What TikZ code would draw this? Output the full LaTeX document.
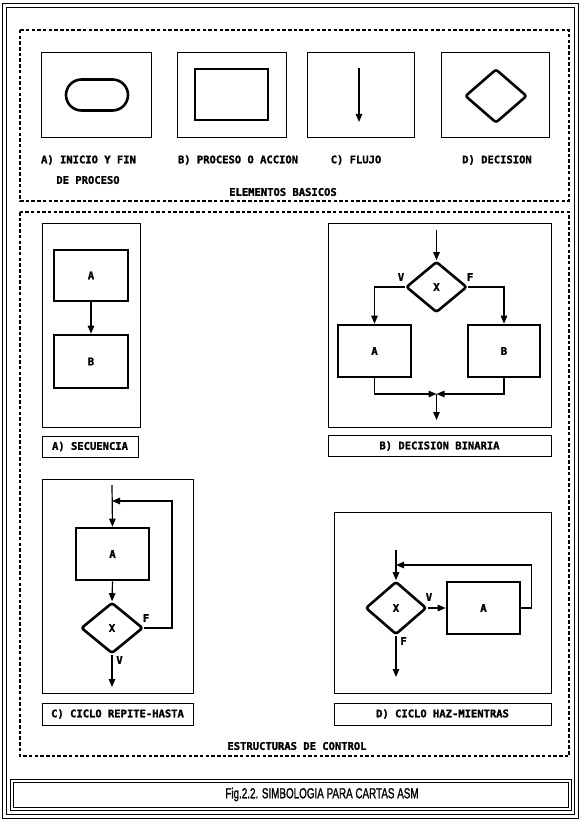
\documentclass[tikz,border=0pt]{standalone}
\usepackage{fontspec}
\usepackage{graphicx}
\setmainfont{Liberation Sans}
\newfontfamily\lblfont[BoldFeatures={FakeBold=1.6}]{DejaVu Sans Mono}
\newfontfamily\capfont[FakeBold=1.5]{Liberation Sans}
\newcommand\lblf{\fontsize{10.5}{12}\selectfont\lblfont\bfseries}
\usetikzlibrary{arrows.meta,shapes.geometric}
\begin{document}
\begin{tikzpicture}[x=1pt,y=-1pt,
  frm/.style={draw, line width=0.9pt, inner sep=0pt},
  sym/.style={draw, line width=2.6pt, inner sep=0pt, font=\lblf},
  dia/.style={sym, diamond, rounded corners=2.5pt},
  lbl/.style={font=\lblf, inner sep=0pt},
  lblbox/.style={draw, line width=0.9pt, inner sep=0pt, font=\lblf},
  arr/.style={line width=1.2pt, -{Triangle[length=8pt,width=6.5pt]}},
  dsh/.style={line width=1.1pt, dash pattern=on 3.5pt off 2.2pt}]
\useasboundingbox (0,0) rectangle (581,821);
% outer double frame
\draw[line width=0.9pt] (2.5,3) rectangle (578.5,818.5);
\draw[line width=0.9pt] (6.5,7) rectangle (574.5,814.5);
% dashed sections
\draw[dsh] (20,30) rectangle (569,201);
\draw[dsh] (20,212) rectangle (569,756);

% ---------- ELEMENTOS BASICOS ----------
\node[frm, minimum width=110pt, minimum height=85pt] (eA) at (96,94.5) {};
\node[frm, minimum width=109pt, minimum height=85pt] (eB) at (231.5,94.5) {};
\node[frm, minimum width=107pt, minimum height=85pt] (eC) at (360.5,94.5) {};
\node[frm, minimum width=108pt, minimum height=85pt] (eD) at (495,94.5) {};
\node[sym, minimum width=62pt, minimum height=31pt, rounded corners=15.5pt] (stad) at (97,95) {};
\node[sym, minimum width=73pt, minimum height=51pt] (proc) at (231.5,94.5) {};
\coordinate (fl1) at (359,68);
\coordinate (fl2) at (359,122);
\draw[arr] (fl1) -- (fl2);
\node[dia, minimum width=62pt, minimum height=54pt] (dec) at (496,96) {};
\node[lbl] (tA) at (88.5,160) {A) INICIO Y FIN};
\node[lbl] (tA2) at (88,180) {DE PROCESO};
\node[lbl] (tB) at (238,160) {B) PROCESO O ACCION};
\node[lbl] (tC) at (356,160) {C) FLUJO};
\node[lbl] (tD) at (497,160) {D) DECISION};
\node[lbl] (tEB) at (283,192) {ELEMENTOS BASICOS};

% ---------- A) SECUENCIA ----------
\node[frm, minimum width=98pt, minimum height=204pt] (sF) at (91,325) {};
\node[sym, minimum width=74pt, minimum height=51pt] (sA) at (91,275.5) {A};
\node[sym, minimum width=74pt, minimum height=53pt] (sB) at (91,361.5) {B};
\draw[arr] (sA) -- (sB);
\node[lblbox, minimum width=96pt, minimum height=21pt] (sL) at (90,446.5) {A) SECUENCIA};

% ---------- B) DECISION BINARIA ----------
\node[frm, minimum width=223pt, minimum height=204pt] (dF) at (439.5,325) {};
\coordinate (dIn) at (436.5,230);
\node[dia, minimum width=61pt, minimum height=51pt] (dX) at (436.5,287) {X};
\node[sym, minimum width=73pt, minimum height=52pt] (dA) at (374.5,351) {A};
\node[sym, minimum width=72pt, minimum height=52pt] (dB) at (504,351) {B};
\coordinate (dM) at (436.5,394);
\coordinate (dOut) at (436.5,420);
\draw[arr] (dIn) -- (dX.north);
\draw[arr] (dX.west) -| (dA.north);
\draw[arr] (dX.east) -| (dB.north);
\draw[arr] (dA.south) |- (dM);
\draw[arr] (dB.south) |- (dM);
\draw[arr] (dM) -- (dOut);
\node[lbl] (dV) at (401,277) {V};
\node[lbl] (dFl) at (470,277) {F};
\node[lblbox, minimum width=223pt, minimum height=21pt] (dL) at (439.5,446) {B) DECISION BINARIA};

% ---------- C) CICLO REPITE-HASTA ----------
\node[frm, minimum width=151pt, minimum height=214pt] (rF) at (117.5,586) {};
\coordinate (rIn) at (112,485);
\coordinate (rJ) at (112,501);
\node[sym, minimum width=73pt, minimum height=52pt] (rA) at (112.5,554) {A};
\node[dia, minimum width=62pt, minimum height=51pt] (rX) at (112,628) {X};
\coordinate (rR) at (172,628);
\coordinate (rOut) at (112,687);
\draw[arr] (rIn) -- (rA.north);
\draw[arr] (rA.south) -- (rX.north);
\draw[arr] (rX.east) -- (rR) |- (rJ);
\draw[arr] (rX.south) -- (rOut);
\node[lbl] (rFl) at (146,618) {F};
\node[lbl] (rV) at (119.5,660) {V};
\node[lblbox, minimum width=151pt, minimum height=22pt] (rL) at (117.5,714) {C) CICLO REPITE-HASTA};

% ---------- D) CICLO HAZ-MIENTRAS ----------
\node[frm, minimum width=217pt, minimum height=181pt] (hF) at (442.5,602.5) {};
\coordinate (hIn) at (396,550);
\coordinate (hJ) at (396,565);
\node[dia, minimum width=61pt, minimum height=53pt] (hX) at (396,608) {X};
\node[sym, minimum width=73pt, minimum height=52pt] (hA) at (483.5,608) {A};
\coordinate (hR) at (531.5,608);
\coordinate (hOut) at (396,677);
\draw[arr] (hIn) -- (hX.north);
\draw[arr] (hX.east) -- (hA.west);
\draw[arr] (hA.east) -- (hR) |- (hJ);
\draw[arr] (hX.south) -- (hOut);
\node[lbl] (hV) at (429,597) {V};
\node[lbl] (hFl) at (403.5,641) {F};
\node[lblbox, minimum width=217pt, minimum height=22pt] (hL) at (442.5,714) {D) CICLO HAZ-MIENTRAS};

\node[lbl] (tEC) at (297,746) {ESTRUCTURAS DE CONTROL};

% ---------- caption ----------
\draw[line width=0.9pt] (10,779) rectangle (571,810.5);
\draw[line width=0.9pt] (13,782) rectangle (568,807.5);
\node[inner sep=0pt] (cap) at (322,794.5) {\scalebox{0.68}[1]{\fontsize{14.5}{16}\selectfont\capfont Fig.2.2. SIMBOLOGIA PARA CARTAS ASM}};
\end{tikzpicture}
\end{document}
